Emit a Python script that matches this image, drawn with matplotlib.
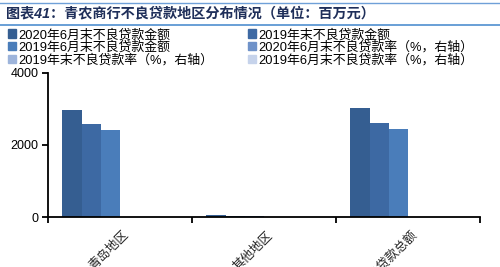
import numpy as np
import matplotlib
matplotlib.use("Agg")
import matplotlib.pyplot as plt
from matplotlib.patches import Patch

plt.rcParams['font.family'] = ['Liberation Sans', 'Noto Sans CJK SC', 'DejaVu Sans']

# categories and series (百万元)
regions = ["青岛地区", "其他地区", "不良贷款总额"]
npl_2020h1 = [2975, 45, 3020]
npl_2019 = [2590, 20, 2610]
npl_2019h1 = [2410, 25, 2435]
series_names = ["2020年6月末不良贷款金额", "2019年末不良贷款金额",
                "2019年6月末不良贷款金额", "2020年6月末不良贷款率（%，右轴）",
                "2019年末不良贷款率（%，右轴）", "2019年6月末不良贷款率（%，右轴）"]
colors = ["#355E91", "#3D69A3", "#4A7DBA", "#6F92C9", "#9DB4DB", "#C6D3EB"]
amounts = [npl_2020h1, npl_2019, npl_2019h1]

fig = plt.figure(figsize=(5.0, 2.67), dpi=100)
ax = fig.add_axes([0.096, 0.187, 0.864, 0.54])

x = np.arange(len(regions))
w = 0.8 / 6
for i, vals in enumerate(amounts):
    ax.bar(x - 0.4 + w * (i + 0.5), vals, width=w, color=colors[i], linewidth=0)

ax.set_xlim(-0.5, len(regions) - 0.5)
ax.set_ylim(0, 4000)
ax.set_yticks([0, 2000, 4000])
ax.set_xticks(np.arange(len(regions) + 1) - 0.5)
ax.set_xticklabels([])
ax.tick_params(axis='x', direction='out', length=4, width=1.3, pad=0)
ax.tick_params(axis='y', direction='out', length=4, width=1.3, labelsize=9, pad=3)
for lab, xi in zip(regions, x):
    ax.text(xi + 0.02, -330, lab, rotation=45, ha='right', va='top', fontsize=9,
            rotation_mode='anchor', color='#222222', clip_on=False)
for s in ['top', 'right']:
    ax.spines[s].set_visible(False)
for s in ['left', 'bottom']:
    ax.spines[s].set_linewidth(1.3)

# title and rules
fig.add_artist(plt.Line2D([0, 1], [0.99, 0.99], color='#6FA0D8', lw=1.0))
fig.add_artist(plt.Line2D([0, 1], [0.905, 0.905], color='#4F8FD0', lw=1.2))
fig.text(0.012, 0.948, "图表41：青农商行不良贷款地区分布情况（单位：百万元）",
         fontsize=10.2, fontweight='bold', style='italic', color='#1F2F5A', va='center')

handles = [Patch(color=c) for c in colors]
order = [0, 2, 4, 1, 3, 5]
fig.legend([handles[i] for i in order], [series_names[i] for i in order],
           ncol=2, loc='upper left', bbox_to_anchor=(0.0, 0.922), frameon=False,
           fontsize=9.3, handlelength=0.6, handleheight=0.6, handletextpad=0.2,
           labelspacing=0.0, columnspacing=2.7, borderaxespad=0.2)

fig.savefig("out.png", dpi=100)
